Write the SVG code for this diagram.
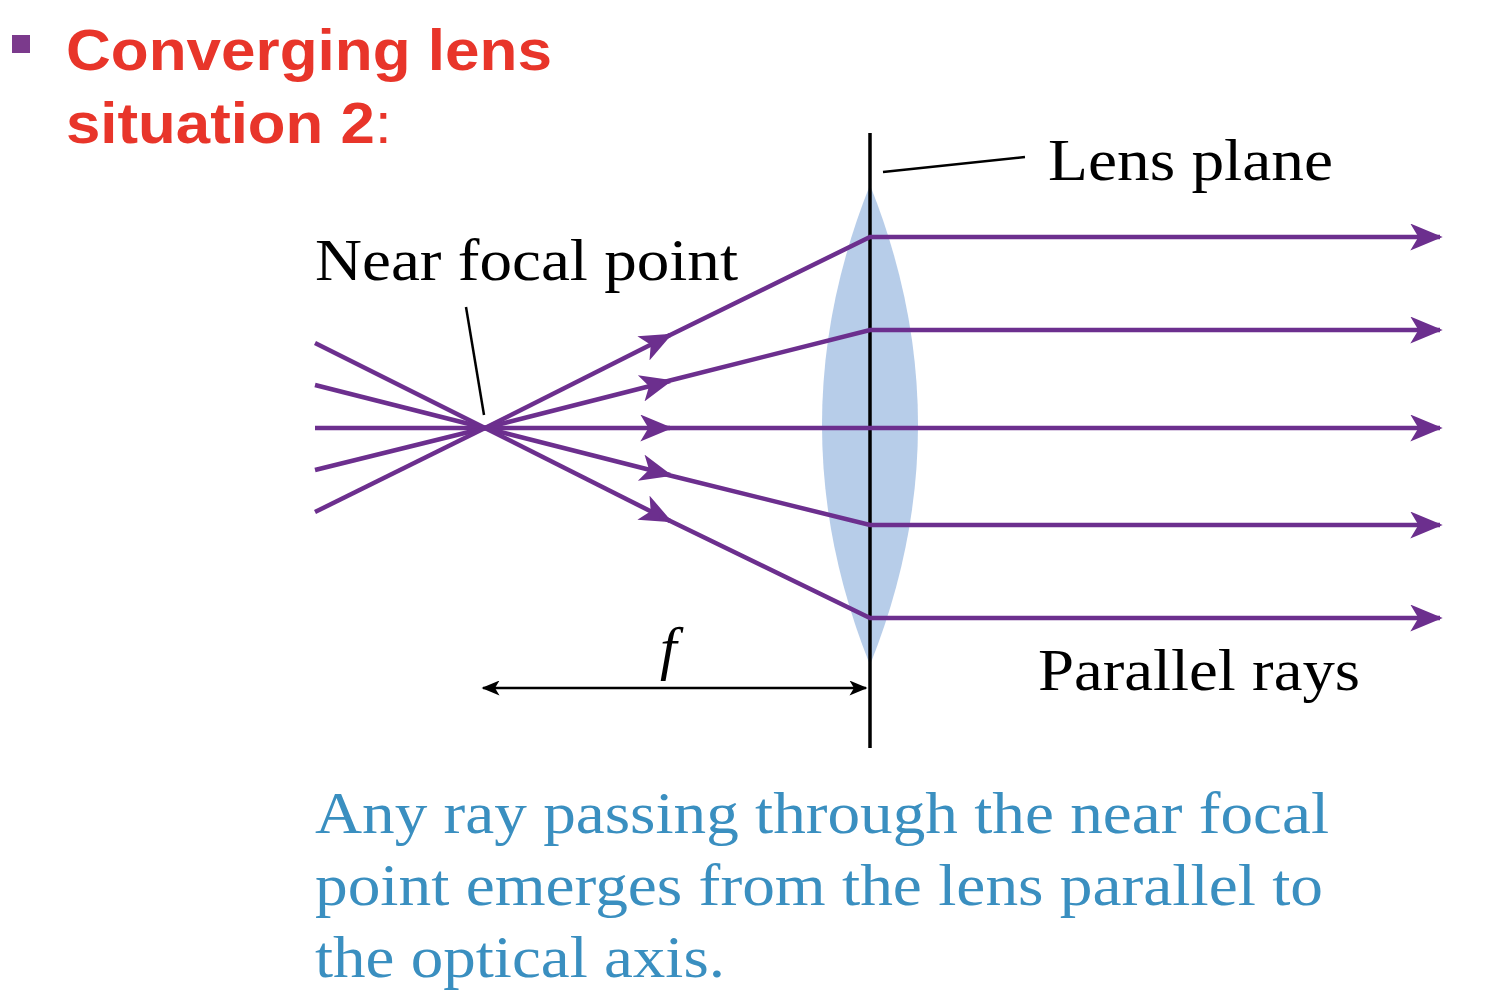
<svg xmlns="http://www.w3.org/2000/svg" width="1500" height="1006" viewBox="0 0 1500 1006">
<style>
.ray{stroke:#6c2f8e;stroke-width:4.5;fill:none}
.lbl{font-family:"Liberation Serif",serif;font-size:60px;fill:#000}
.cap{font-family:"Liberation Serif",serif;font-size:60px;fill:#3a8fc0}
.ttl{font-family:"Liberation Sans",Arial,sans-serif;font-size:58px;font-weight:bold;fill:#e8352a}
</style>
<defs>
<marker id="ah" viewBox="0 0 12 10" refX="11" refY="5" markerWidth="7.5" markerHeight="6" orient="auto" markerUnits="strokeWidth">
<path d="M0,0 L12,5 L0,10 L3,5 Z" fill="#6c2f8e"/></marker>
<marker id="bk" viewBox="0 0 12 10" refX="11" refY="5" markerWidth="8" markerHeight="6" orient="auto-start-reverse" markerUnits="strokeWidth">
<path d="M0,0 L12,5 L0,10 L3,5 Z" fill="#000"/></marker>
</defs>
<rect width="1500" height="1006" fill="#fff"/>
<g id="title">
<rect x="12" y="35" width="18" height="18" fill="#7b3a8c"/>
<text class="ttl" x="66" y="70" textLength="486" lengthAdjust="spacingAndGlyphs">Converging lens</text>
<text class="ttl" x="66" y="143" textLength="326" lengthAdjust="spacingAndGlyphs">situation 2<tspan font-weight="normal">:</tspan></text>
</g>
<g id="lens">
<path d="M870,185 Q966,425 870,665 Q774,425 870,185 Z" fill="#b7cde9"/>
<line x1="870" y1="133" x2="870" y2="748" stroke="#000" stroke-width="3.5"/>
</g>
<g id="connectors">
<path class="ray" d="M315,343 L485,428"/>
<path class="ray" d="M315,385 L485,428"/>
<path class="ray" d="M315,428 L485,428"/>
<path class="ray" d="M315,470 L485,428"/>
<path class="ray" d="M315,512 L485,428"/>
<path class="ray" d="M485,428 L670,335" marker-end="url(#ah)"/><path class="ray" d="M660,340 L870,237 L1440,237" marker-end="url(#ah)"/>
<path class="ray" d="M485,428 L670,381" marker-end="url(#ah)"/><path class="ray" d="M660,383 L870,330 L1440,330" marker-end="url(#ah)"/>
<path class="ray" d="M485,428 L670,428" marker-end="url(#ah)"/><path class="ray" d="M660,428 L1440,428" marker-end="url(#ah)"/>
<path class="ray" d="M485,428 L670,475" marker-end="url(#ah)"/><path class="ray" d="M660,473 L870,525 L1440,525" marker-end="url(#ah)"/>
<path class="ray" d="M485,428 L670,521" marker-end="url(#ah)"/><path class="ray" d="M660,516 L870,618 L1440,618" marker-end="url(#ah)"/>
<line x1="883" y1="172" x2="1025" y2="157" stroke="#000" stroke-width="2.5"/>
<line x1="466" y1="307" x2="484" y2="415" stroke="#000" stroke-width="2.5"/>
<line x1="483" y1="688" x2="866" y2="688" stroke="#000" stroke-width="2.5" marker-start="url(#bk)" marker-end="url(#bk)"/>
</g>
<g id="labels">
<text class="lbl" x="1048" y="180" textLength="285" lengthAdjust="spacingAndGlyphs">Lens plane</text>
<text class="lbl" x="315" y="280" textLength="423" lengthAdjust="spacingAndGlyphs">Near focal point</text>
<text class="lbl" x="660" y="668" font-style="italic">f</text>
<text class="lbl" x="1038" y="690" textLength="322" lengthAdjust="spacingAndGlyphs">Parallel rays</text>
<text class="cap" x="315" y="833" textLength="1014" lengthAdjust="spacingAndGlyphs">Any ray passing through the near focal</text>
<text class="cap" x="315" y="905" textLength="1008" lengthAdjust="spacingAndGlyphs">point emerges from the lens parallel to</text>
<text class="cap" x="315" y="977" textLength="410" lengthAdjust="spacingAndGlyphs">the optical axis.</text>
</g>
</svg>
